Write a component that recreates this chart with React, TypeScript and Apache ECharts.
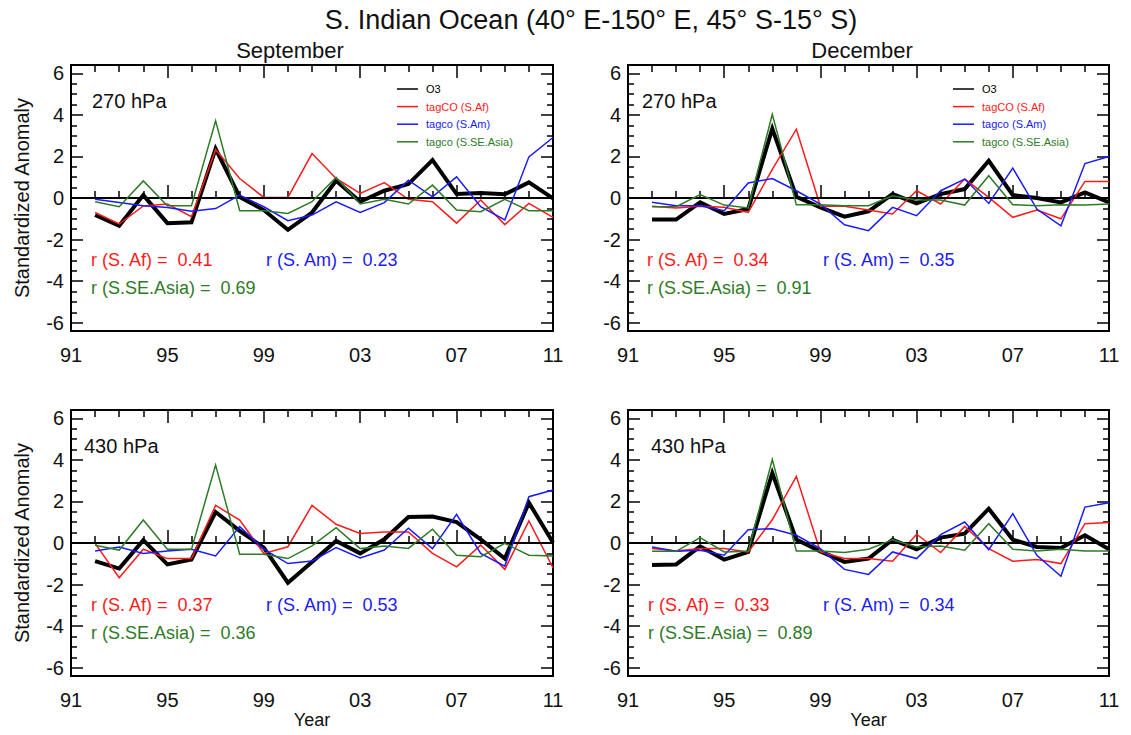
import React, { useEffect, useRef } from "react";
import * as echarts from "echarts";

// ---------- data ----------
const years = [1992, 1993, 1994, 1995, 1996, 1997, 1998, 1999, 2000, 2001, 2002, 2003, 2004, 2005, 2006, 2007, 2008, 2009, 2010, 2011];
const xTickLabelsBaseYear = 1991;

// September 270 hPa
const sep270_O3 = [-0.82, -1.34, 0.14, -1.21, -1.17, 2.37, 0.05, -0.58, -1.53, -0.7, 0.83, -0.18, 0.35, 0.67, 1.82, 0.19, 0.24, 0.18, 0.75, -0.02];
const sep270_Af = [-0.7, -1.25, -0.38, -0.29, -0.9, 2.33, 0.94, 0.03, 0.03, 2.14, 0.94, 0.22, 0.74, -0.06, -0.18, -1.21, -0.1, -1.28, -0.26, -0.93];
const sep270_Am = [-0.06, -0.22, -0.37, -0.46, -0.64, -0.51, 0.14, -0.42, -1.09, -0.82, -0.18, -0.7, -0.22, 0.86, 0.06, 1.02, -0.42, -1.06, 1.98, 2.91];
const sep270_As = [-0.18, -0.42, 0.82, -0.37, -0.37, 3.71, -0.61, -0.61, -0.74, -0.18, 0.99, -0.29, -0.06, -0.29, 0.62, -0.58, -0.66, -0.06, -0.61, -0.61];

// December 270 hPa
const dec270_O3 = [-1.04, -1.04, -0.21, -0.77, -0.53, 3.34, 0.06, -0.45, -0.9, -0.64, 0.19, -0.26, 0.19, 0.43, 1.79, 0.14, 0.0, -0.21, 0.27, -0.21];
const dec270_Af = [-0.4, -0.48, -0.4, -0.45, -0.69, 1.38, 3.31, -0.4, -0.4, -0.58, -0.77, 0.35, -0.29, 0.91, 0.03, -0.93, -0.58, -1.0, 0.8, 0.8];
const dec270_Am = [-0.21, -0.37, -0.37, -0.61, 0.72, 0.94, 0.35, -0.29, -1.29, -1.57, -0.45, -0.85, 0.35, 0.91, -0.26, 1.44, -0.53, -1.34, 1.66, 2.0];
const dec270_As = [-0.42, -0.42, 0.16, -0.34, -0.48, 4.03, -0.32, -0.32, -0.37, -0.37, 0.11, -0.1, -0.1, -0.34, 1.07, -0.32, -0.37, -0.32, -0.34, -0.29];

// September 430 hPa
const sep430_O3 = [-0.87, -1.23, 0.14, -1.03, -0.79, 1.49, 0.58, -0.22, -1.91, -0.91, 0.1, -0.5, 0.18, 1.25, 1.27, 1.01, 0.18, -0.75, 1.94, 0.02];
const sep430_Af = [-0.02, -1.67, -0.3, -0.75, -0.75, 1.81, 1.1, -0.5, -0.18, 1.81, 0.9, 0.46, 0.53, 0.53, -0.5, -1.15, -0.1, -1.27, 1.06, -1.19];
const sep430_Am = [-0.38, -0.19, -0.5, -0.38, -0.3, -0.62, 0.79, -0.3, -0.99, -0.87, -0.22, -0.72, -0.34, 0.71, -0.27, 1.38, -0.5, -1.11, 2.23, 2.55];
const sep430_As = [-0.11, -0.34, 1.11, -0.3, -0.3, 3.75, -0.54, -0.54, -0.75, -0.14, 0.74, -0.27, -0.14, -0.26, 0.66, -0.59, -0.66, -0.02, -0.59, -0.62];

// December 430 hPa
const dec430_O3 = [-1.06, -1.03, -0.16, -0.8, -0.43, 3.37, 0.16, -0.4, -0.91, -0.75, 0.16, -0.3, 0.26, 0.45, 1.65, 0.16, -0.19, -0.24, 0.37, -0.3];
const dec430_Af = [-0.27, -0.38, -0.27, -0.27, -0.43, 1.12, 3.21, -0.43, -0.75, -0.75, -0.88, 0.42, -0.46, 0.8, -0.27, -0.88, -0.8, -0.99, 0.93, 0.99];
const dec430_Am = [-0.19, -0.4, -0.35, -0.59, 0.64, 0.69, 0.37, -0.27, -1.27, -1.51, -0.43, -0.75, 0.4, 1.01, -0.32, 1.41, -0.59, -1.6, 1.73, 1.94];
const dec430_As = [-0.4, -0.4, 0.26, -0.43, -0.4, 4.02, -0.38, -0.38, -0.46, -0.3, 0.16, -0.19, -0.14, -0.35, 0.93, -0.3, -0.38, -0.3, -0.38, -0.38];

const legendNames = ["O3", "tagCO (S.Af)", "tagco (S.Am)", "tagco (S.SE.Asia)"];
const corrSep270 = ["0.41", "0.23", "0.69"];
const corrDec270 = ["0.34", "0.35", "0.91"];
const corrSep430 = ["0.37", "0.53", "0.36"];
const corrDec430 = ["0.33", "0.34", "0.89"];

const title = "S. Indian Ocean (40° E-150° E, 45° S-15° S)";
const columnTitles = ["September", "December"];
const levelLabels = ["270 hPa", "430 hPa"];

// ---------- styling ----------
const FONT = '"Liberation Sans", Arial, Helvetica, sans-serif';
const BLACK = "#000000";
const RED = "#ff1a1a";
const BLUE = "#1a1aff";
const GREEN = "#2e7b27";

type Panel = {
  left: number; top: number; width: number; height: number;
  series: number[][]; corr: string[]; level: string; legend: boolean;
  levelX: number; rX: number; rBlueX: number;
};

const YMAX = 6.4;

const panels: Panel[] = [
  { left: 71, top: 65, width: 482, height: 266, series: [sep270_O3, sep270_Af, sep270_Am, sep270_As], corr: corrSep270, level: levelLabels[0], legend: true, levelX: 92, rX: 91, rBlueX: 266 },
  { left: 628, top: 65, width: 481, height: 266, series: [dec270_O3, dec270_Af, dec270_Am, dec270_As], corr: corrDec270, level: levelLabels[0], legend: true, levelX: 642, rX: 647, rBlueX: 823 },
  { left: 71, top: 410, width: 482, height: 266, series: [sep430_O3, sep430_Af, sep430_Am, sep430_As], corr: corrSep430, level: levelLabels[1], legend: false, levelX: 84, rX: 91, rBlueX: 266 },
  { left: 628, top: 410, width: 481, height: 266, series: [dec430_O3, dec430_Af, dec430_Am, dec430_As], corr: corrDec430, level: levelLabels[1], legend: false, levelX: 651, rX: 648, rBlueX: 823 },
];

const seriesColors = [BLACK, RED, BLUE, GREEN];
const seriesWidths = [4, 1.5, 1.5, 1.5];

function buildOption() {
  const grid: any[] = [];
  const xAxis: any[] = [];
  const yAxis: any[] = [];
  const series: any[] = [];
  const graphic: any[] = [];

  panels.forEach((p, i) => {
    const gA = i * 2;
    const gB = i * 2 + 1;
    const inner = (p.height * 6) / YMAX;
    grid.push({ left: p.left, top: p.top, width: p.width, height: p.height, show: true, borderColor: BLACK, borderWidth: 2, backgroundColor: "transparent", containLabel: false, outerBoundsMode: "none" });
    grid.push({ left: p.left, top: p.top + (p.height - inner) / 2, width: p.width, height: inner, show: false, containLabel: false, outerBoundsMode: "none" });

    const xBase = {
      type: "value", min: 0, max: 20, interval: 4, gridIndex: gA,
      axisLine: { show: false },
      splitLine: { show: false },
      axisTick: { show: true, inside: true, length: 13, lineStyle: { color: BLACK, width: 1.5 } },
      minorTick: { show: true, splitNumber: 4, length: 7, lineStyle: { color: BLACK, width: 1.5 } },
      minorSplitLine: { show: false },
    };
    const xBottomIndex = xAxis.length;
    xAxis.push({
      ...xBase, position: "bottom",
      axisLabel: {
        show: true, margin: 14, color: "#111", fontSize: 20, fontFamily: FONT,
        formatter: (v: number) => String((xTickLabelsBaseYear + v) % 100).padStart(2, "0"),
      },
      name: i >= 2 ? "Year" : "", nameLocation: "middle", nameGap: 35,
      nameTextStyle: { fontSize: 18, fontFamily: FONT, color: "#111" },
    });
    xAxis.push({ ...xBase, position: "top", axisLabel: { show: false } });
    xAxis.push({ type: "value", min: 0, max: 20, gridIndex: gB, show: false });

    const yHiddenIndex = yAxis.length;
    yAxis.push({ type: "value", min: -YMAX, max: YMAX, gridIndex: gA, show: false });
    const yBase = {
      type: "value", min: -6, max: 6, interval: 2, gridIndex: gB,
      axisLine: { show: false },
      splitLine: { show: false },
      axisTick: { show: true, inside: true, length: 12, lineStyle: { color: BLACK, width: 1.5 } },
      minorTick: { show: true, splitNumber: 4, length: 6, lineStyle: { color: BLACK, width: 1.5 } },
      minorSplitLine: { show: false },
    };
    yAxis.push({
      ...yBase, position: "left",
      axisLabel: { show: true, margin: 7, color: "#111", fontSize: 20, fontFamily: FONT },
    });
    yAxis.push({ ...yBase, position: "right", axisLabel: { show: false } });

    p.series.forEach((vals, k) => {
      series.push({
        type: "line",
        xAxisIndex: xBottomIndex,
        yAxisIndex: yHiddenIndex,
        data: years.map((yr, j) => [yr - xTickLabelsBaseYear, vals[j]]),
        symbol: "none",
        showSymbol: false,
        z: 3 + k,
        lineStyle: { color: seriesColors[k], width: seriesWidths[k], join: "miter" },
        itemStyle: { color: seriesColors[k] },
        markLine: k === 0 ? {
          silent: true, symbol: "none", label: { show: false },
          lineStyle: { color: BLACK, width: 1.8, type: "solid" },
          data: [{ yAxis: 0 }],
        } : undefined,
      });
    });

    // level label
    graphic.push({ type: "text", x: p.levelX, y: p.top + 36, style: { text: p.level, fontSize: 20, fontFamily: FONT, fill: "#111", textVerticalAlign: "middle" } });
    // correlation labels
    const rY = p.top + 195;
    graphic.push({ type: "text", x: p.rX, y: rY, style: { text: "r (S. Af) =  " + p.corr[0], fontSize: 18, fontFamily: FONT, fill: RED, textVerticalAlign: "middle" } });
    graphic.push({ type: "text", x: p.rBlueX, y: rY, style: { text: "r (S. Am) =  " + p.corr[1], fontSize: 18, fontFamily: FONT, fill: BLUE, textVerticalAlign: "middle" } });
    graphic.push({ type: "text", x: p.rX, y: rY + 28, style: { text: "r (S.SE.Asia) =  " + p.corr[2], fontSize: 18, fontFamily: FONT, fill: GREEN, textVerticalAlign: "middle" } });

    if (p.legend) {
      const lx = p.left + p.width - 156;
      legendNames.forEach((nm, k) => {
        const ly = p.top + 24 + k * 17.6;
        graphic.push({ type: "line", shape: { x1: lx, y1: ly, x2: lx + 21, y2: ly }, style: { stroke: seriesColors[k], lineWidth: 1.5 } });
        graphic.push({ type: "text", x: lx + 29, y: ly, style: { text: nm, fontSize: 11, fontFamily: FONT, fill: seriesColors[k], textVerticalAlign: "middle" } });
      });
    }
  });

  // titles
  graphic.push({ type: "text", x: 591, y: 20, style: { text: title, fontSize: 27, fontFamily: FONT, fill: "#111", textAlign: "center", textVerticalAlign: "middle" } });
  graphic.push({ type: "text", x: 290, y: 50, style: { text: columnTitles[0], fontSize: 22, fontFamily: FONT, fill: "#111", textAlign: "center", textVerticalAlign: "middle" } });
  graphic.push({ type: "text", x: 862, y: 50, style: { text: columnTitles[1], fontSize: 22, fontFamily: FONT, fill: "#111", textAlign: "center", textVerticalAlign: "middle" } });
  [198, 543].forEach((cy) => {
    graphic.push({ type: "text", x: 22, y: cy, rotation: Math.PI / 2, style: { text: "Standardized Anomaly", fontSize: 20, fontFamily: FONT, fill: "#111", textAlign: "center", textVerticalAlign: "middle" } });
  });

  return {
    animation: false,
    backgroundColor: "#ffffff",
    textStyle: { fontFamily: FONT },
    grid, xAxis, yAxis, series, graphic,
  };
}

export default function App() {
  const ref = useRef<HTMLDivElement>(null);
  useEffect(() => {
    if (!ref.current) return;
    const chart = echarts.init(ref.current, undefined, { renderer: "svg" });
    chart.setOption(buildOption() as any);
    return () => chart.dispose();
  }, []);
  return <div ref={ref} style={{ position: "fixed", left: 0, top: 0, width: 1131, height: 735 }} />;
}
